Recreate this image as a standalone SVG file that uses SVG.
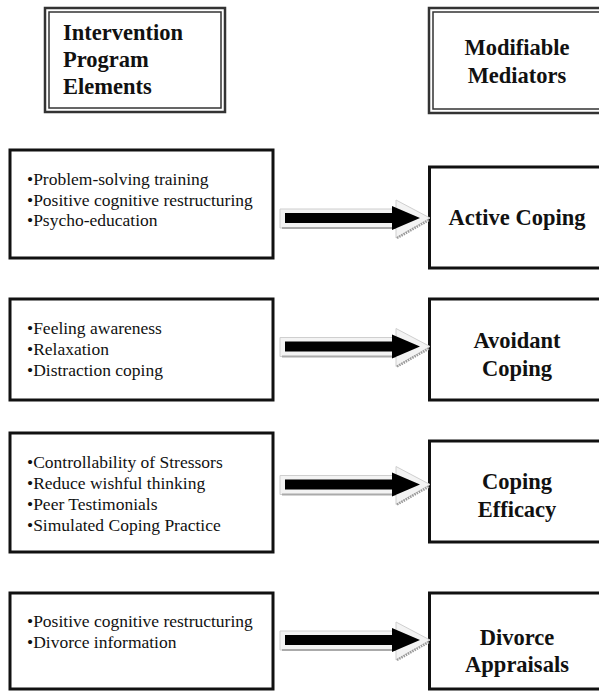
<svg xmlns="http://www.w3.org/2000/svg" width="599" height="693" viewBox="0 0 599 693">
<style>
.box{fill:#fff;stroke:#111;stroke-width:3}
.hdo{fill:#fff;stroke:#333;stroke-width:2.5}
.hdi{fill:none;stroke:#333;stroke-width:1.5}
.item{font-family:"Liberation Serif","Times New Roman",serif;font-size:17.5px;fill:#111}
.bold{font-family:"Liberation Serif","Times New Roman",serif;font-size:22.5px;font-weight:bold;fill:#111}
.mid{text-anchor:middle}
</style>
<defs>
<g id="arrow">
<path d="M280,-9 L396,-9 L396,-18 L430,0 L396,20 L396,10 L280,10 Z" fill="#f3f3f3" stroke="#cfcfcf" stroke-width="1"/>
<line x1="282" y1="10" x2="396" y2="10" stroke="#aaa" stroke-width="2"/>
<line x1="397" y1="20" x2="429" y2="2" stroke="#999" stroke-width="2.5" stroke-dasharray="1.5 1"/>
<path d="M285,-5 L392,-5 L392,-12 L420,0 L392,12 L392,5 L285,5 Z" fill="#000"/>
</g>
</defs>
<g id="header-left">
<rect class="hdo" x="45" y="8" width="180" height="104"/>
<rect class="hdi" x="49" y="12" width="172" height="96"/>
<text class="bold" x="63" y="40">Intervention</text>
<text class="bold" x="63" y="67">Program</text>
<text class="bold" x="63" y="94">Elements</text>
</g>
<g id="header-right">
<rect class="hdo" x="429" y="8" width="180" height="105"/>
<rect class="hdi" x="433" y="12" width="172" height="97"/>
<text class="bold mid" x="517" y="55">Modifiable</text>
<text class="bold mid" x="517" y="83">Mediators</text>
</g>
<g id="elements-1">
<rect class="box" x="10" y="150" width="263" height="108"/>
<text class="item" x="27" y="185">•Problem-solving training</text>
<text class="item" x="27" y="205.5">•Positive cognitive restructuring</text>
<text class="item" x="27" y="226">•Psycho-education</text>
</g>
<g id="mediator-1">
<rect class="box" x="429.5" y="167" width="180" height="101"/>
<text class="bold mid" x="517" y="225">Active Coping</text>
</g>
<g id="elements-2">
<rect class="box" x="10" y="299" width="263" height="101"/>
<text class="item" x="27" y="334">•Feeling awareness</text>
<text class="item" x="27" y="355">•Relaxation</text>
<text class="item" x="27" y="376">•Distraction coping</text>
</g>
<g id="mediator-2">
<rect class="box" x="429.5" y="299" width="180" height="101"/>
<text class="bold mid" x="517" y="348">Avoidant</text>
<text class="bold mid" x="517" y="376">Coping</text>
</g>
<g id="elements-3">
<rect class="box" x="10" y="433" width="263" height="119"/>
<text class="item" x="27" y="468">•Controllability of Stressors</text>
<text class="item" x="27" y="489">•Reduce wishful thinking</text>
<text class="item" x="27" y="510">•Peer Testimonials</text>
<text class="item" x="27" y="531">•Simulated Coping Practice</text>
</g>
<g id="mediator-3">
<rect class="box" x="429.5" y="441" width="180" height="101"/>
<text class="bold mid" x="517" y="489">Coping</text>
<text class="bold mid" x="517" y="517">Efficacy</text>
</g>
<g id="elements-4">
<rect class="box" x="10" y="593" width="263" height="96"/>
<text class="item" x="27" y="627">•Positive cognitive restructuring</text>
<text class="item" x="27" y="648">•Divorce information</text>
</g>
<g id="mediator-4">
<rect class="box" x="429.5" y="593" width="180" height="96"/>
<text class="bold mid" x="517" y="645">Divorce</text>
<text class="bold mid" x="517" y="672">Appraisals</text>
</g>
<g id="connectors">
<use href="#arrow" transform="translate(0,218)"/>
<use href="#arrow" transform="translate(0,346.5)"/>
<use href="#arrow" transform="translate(0,484.5)"/>
<use href="#arrow" transform="translate(0,640)"/>
</g>
</svg>
